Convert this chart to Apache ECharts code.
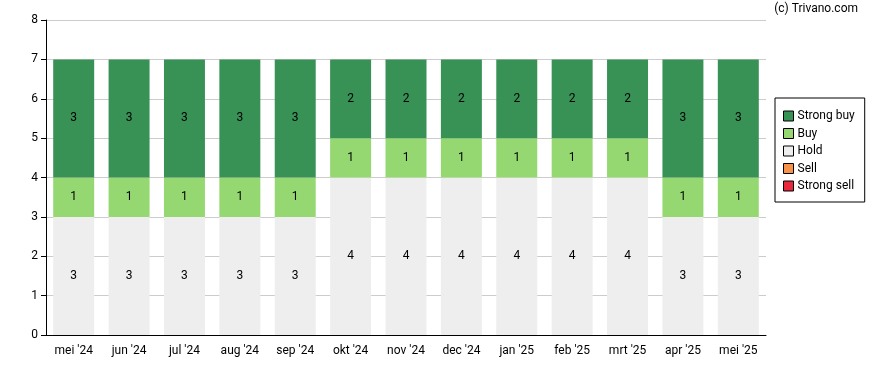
<!DOCTYPE html>
<html><head><meta charset="utf-8">
<script src="https://cdn.jsdelivr.net/npm/echarts@6/dist/echarts.min.js"></script>
<style>html,body{margin:0;padding:0;background:#fff}#c{width:888px;height:370px}</style>
</head><body><div id="c"></div>
<script>
const categories = ["mei '24","jun '24","jul '24","aug '24","sep '24","okt '24","nov '24","dec '24","jan '25","feb '25","mrt '25","apr '25","mei '25"];
const strongBuy = [3,3,3,3,3,2,2,2,2,2,2,3,3];
const buy = [1,1,1,1,1,1,1,1,1,1,1,1,1];
const hold = [3,3,3,3,3,4,4,4,4,4,4,3,3];
const sell = [0,0,0,0,0,0,0,0,0,0,0,0,0];
const strongSell = [0,0,0,0,0,0,0,0,0,0,0,0,0];
const yTicks = [0,1,2,3,4,5,6,7,8];

const chart = echarts.init(document.getElementById('c'));
const font = 'Roboto, "Liberation Sans", Arial, sans-serif';
function mk(name, data, color) {
  return {
    name, type: 'bar', stack: 'a', data, barCategoryGap: '26%',
    itemStyle: { color },
    label: { show: true, position: 'inside', color: '#000', fontSize: 12, fontFamily: font,
      formatter: p => p.value ? String(p.value) : '' },
    emphasis: { disabled: true }
  };
}
chart.setOption({
  animation: false,
  textStyle: { fontFamily: font },
  graphic: [{ type: 'text', right: 30, top: 3, style: { text: '(c) Trivano.com', font: '12px ' + font, fill: '#000' } }],
  grid: { left: 46, right: 122, top: 20, bottom: 35 },
  legend: {
    orient: 'vertical', left: 775, top: 98,
    data: ['Strong buy','Buy','Hold','Sell','Strong sell'],
    icon: 'rect', itemWidth: 10, itemHeight: 10, itemGap: 5.5,
    borderColor: '#000', borderWidth: 1, borderRadius: 0,
    padding: [12, 10, 10, 8],
    textStyle: { fontSize: 12, color: '#000', fontFamily: font, padding: [0,0,0,-1] },
    itemStyle: { borderColor: '#000', borderWidth: 1 },
    selectedMode: false
  },
  xAxis: {
    type: 'category', data: categories,
    axisLine: { lineStyle: { color: '#000' } },
    axisTick: { alignWithLabel: true, lineStyle: { color: '#000' }, length: 5 },
    axisLabel: { color: '#000', fontSize: 12, margin: 10 }
  },
  yAxis: {
    type: 'value', min: yTicks[0], max: yTicks[yTicks.length-1], interval: 1,
    axisLine: { show: true, lineStyle: { color: '#000' } },
    axisTick: { show: true, lineStyle: { color: '#000' }, length: 5 },
    axisLabel: { color: '#000', fontSize: 12, margin: 8 },
    splitLine: { lineStyle: { color: '#cccccc' } }
  },
  series: [
    mk('Strong sell', strongSell, '#e8283c'),
    mk('Sell', sell, '#f7924a'),
    mk('Hold', hold, '#eeeeee'),
    mk('Buy', buy, '#95d872'),
    mk('Strong buy', strongBuy, '#389256')
  ]
});
</script></body></html>
